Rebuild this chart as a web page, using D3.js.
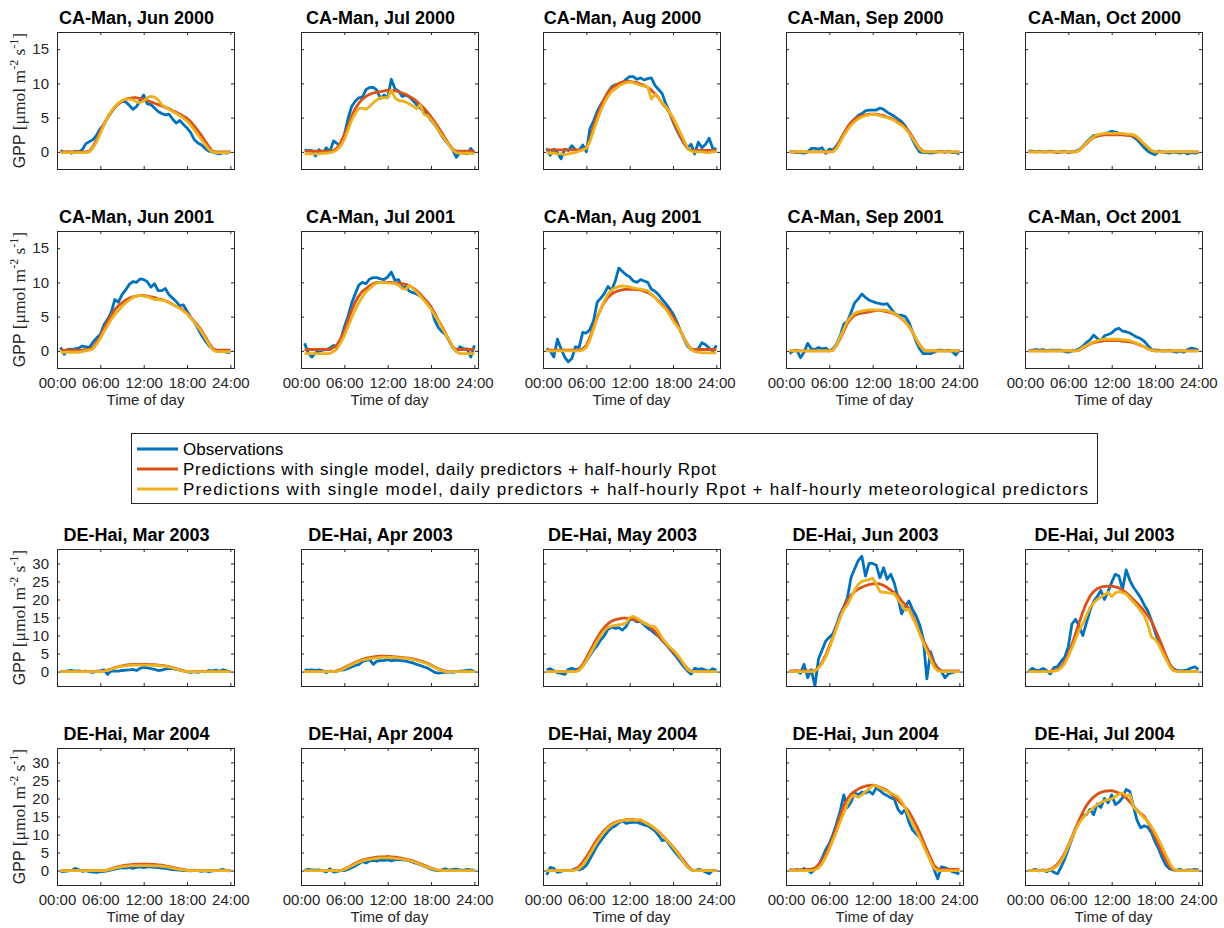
<!DOCTYPE html>
<html>
<head>
<meta charset="utf-8">
<script src="https://cdn.jsdelivr.net/npm/d3@7"></script>
<style>
  html, body { margin: 0; padding: 0; background: #fff; }
  svg { display: block; font-family: "Liberation Sans", Arial, Helvetica, sans-serif; }
</style>
</head>
<body>
<svg id="chart" width="1224" height="928"></svg>
<script>
// Half-hourly time stamps (end of each 30-minute interval), in hours
const halfHours = d3.range(1, 49).map(k => k * 0.5);

const hourTickValues = [0, 6, 12, 18, 24];
const hourTickLabels = ["00:00", "06:00", "12:00", "18:00", "24:00"];
const gppTicksCaMan = [0, 5, 10, 15];
const gppTicksDeHai = [0, 5, 10, 15, 20, 25, 30];

const seriesNames = [
  "Observations",
  "Predictions with single model, daily predictors + half-hourly Rpot",
  "Predictions with single model, daily predictors + half-hourly Rpot + half-hourly meteorological predictors"
];
const seriesColors = ["#0072BD", "#D95319", "#EDB120"];

const panelTitles = [
  "CA-Man, Jun 2000", "CA-Man, Jul 2000", "CA-Man, Aug 2000", "CA-Man, Sep 2000", "CA-Man, Oct 2000",
  "CA-Man, Jun 2001", "CA-Man, Jul 2001", "CA-Man, Aug 2001", "CA-Man, Sep 2001", "CA-Man, Oct 2001",
  "DE-Hai, Mar 2003", "DE-Hai, Apr 2003", "DE-Hai, May 2003", "DE-Hai, Jun 2003", "DE-Hai, Jul 2003",
  "DE-Hai, Mar 2004", "DE-Hai, Apr 2004", "DE-Hai, May 2004", "DE-Hai, Jun 2004", "DE-Hai, Jul 2004"
];

// ---- Mean diurnal GPP cycles, 48 half-hourly values each [umol m-2 s-1] ----
// CA-Man 2000
const obsCaManJun2000 = [0.2,-0.1,0.0,-0.2,0.1,0.0,0.3,1.2, 1.5,1.8,2.5,3.4,4.0,5.0,5.8,6.5, 7.0,7.4,7.3,6.8,6.2,6.6,7.5,8.3, 7.0,6.9,6.4,5.9,5.6,5.4,5.5,4.8, 4.2,4.6,4.0,3.5,2.8,1.8,1.3,1.0, 0.5,0.1,0.0,-0.2,-0.3,-0.1,-0.2,0.0];
const rpotCaManJun2000 = [0,0,0,0,0,0,0,0, 0.1,0.8,1.8,3.0,4.1,5.0,5.8,6.5, 7.0,7.4,7.7,7.8,7.9,7.9,7.8,7.7, 7.5,7.3,7.1,6.9,6.7,6.5,6.3,6.0, 5.8,5.5,5.2,4.9,4.4,3.8,3.1,2.4, 1.6,0.8,0.1,0,0,0,0,0];
const metCaManJun2000 = [-0.1,-0.1,-0.1,-0.1,-0.1,-0.1,-0.1,-0.1, 0.0,0.6,1.5,2.7,3.9,5.0,5.9,6.6, 7.1,7.5,7.7,7.7,7.6,7.3,7.2,7.4, 7.9,8.1,8.0,7.6,6.9,6.5,6.2,5.9, 5.6,5.3,4.9,4.5,3.9,3.2,2.5,1.8, 1.1,0.4,0.0,-0.1,-0.1,-0.1,-0.1,-0.1];

const obsCaManJul2000 = [0.3,0.2,0.2,-0.6,0.3,-0.1,0.6,0.0, 1.6,1.2,0.9,2.5,4.8,6.6,7.4,7.9, 8.0,9.1,9.4,9.4,9.0,7.8,8.3,7.9, 10.6,9.2,8.9,8.1,8.3,8.0,7.5,6.9, 6.4,5.9,5.4,4.6,4.0,3.2,2.3,1.6, 1.0,0.3,-0.8,0.0,-0.2,-0.3,0.5,-0.2];
const rpotCaManJul2000 = [0.1,0.1,0.1,0.1,0.1,0.1,0.1,0.1, 0.2,0.6,1.4,2.5,3.8,5.2,6.3,7.1, 7.7,8.1,8.4,8.6,8.7,8.8,8.9,9.0, 9.0,8.9,8.8,8.6,8.4,8.1,7.8,7.4, 6.9,6.4,5.8,5.1,4.4,3.6,2.8,1.9, 1.1,0.4,0.1,0.1,0.1,0.1,0.1,0.1];
const metCaManJul2000 = [-0.3,-0.3,-0.3,-0.3,-0.3,-0.2,-0.2,-0.1, 0.0,0.3,0.9,1.8,3.2,4.6,5.6,6.3, 6.4,6.2,6.6,7.2,7.6,7.9,7.9,7.9, 9.0,7.9,7.5,7.4,7.3,7.0,6.7,6.3, 6.9,5.5,5.3,4.7,4.0,3.2,2.4,1.7, 1.0,0.3,-0.1,-0.2,-0.2,-0.2,-0.2,-0.3];

const obsCaManAug2000 = [0.5,-0.5,0.4,-0.1,-1.0,0.4,0.2,0.9, 0.3,0.2,1.0,0.0,3.4,4.5,5.9,6.9, 7.7,8.7,9.5,9.8,9.8,10.1,10.6,11.0, 11.0,10.6,10.8,10.5,10.7,10.8,9.7,9.1, 8.5,7.0,5.8,4.4,3.2,2.2,1.3,0.6, 1.1,-0.3,1.4,0.6,1.1,2.0,0.5,0.4];
const rpotCaManAug2000 = [0.3,0.3,0.3,0.3,0.3,0.3,0.3,0.3, 0.3,0.3,0.3,0.6,1.8,3.8,5.3,6.6, 7.8,8.7,9.3,9.7,10.0,10.2,10.3,10.3, 10.2,10.1,9.9,9.7,9.4,9.0,8.5,7.9, 7.1,6.5,5.8,4.6,3.4,2.3,1.3,0.5, 0.2,0.2,0.2,0.2,0.2,0.2,0.2,0.2];
const metCaManAug2000 = [-0.1,-0.2,-0.2,-0.3,-0.3,-0.4,-0.3,-0.2, -0.1,0.1,0.3,0.5,1.5,3.1,4.6,6.0, 7.2,8.1,8.8,9.2,9.6,9.9,10.1,10.2, 10.1,9.9,9.7,9.6,9.5,7.7,8.4,7.9, 7.2,6.6,5.8,5.0,3.9,2.8,1.7,0.6, 0.1,0.0,0.0,0.0,-0.1,-0.1,0.0,0.0];

const obsCaManSep2000 = [0.0,0.0,-0.1,-0.1,-0.2,0.0,0.5,0.5, 0.4,0.6,-0.2,0.4,0.3,0.9,1.7,2.6, 3.4,4.2,4.8,5.3,5.6,6.0,6.1,6.1, 6.1,6.4,6.2,5.8,5.5,5.2,4.8,4.4, 3.8,2.9,1.8,0.8,0.0,-0.1,-0.1,-0.2, -0.1,0.0,0.1,-0.1,0.1,-0.1,-0.1,-0.3];
const rpotCaManSep2000 = [0,0,0,0,0,0,0,0, 0,0,0,0,0.1,0.7,1.7,2.7, 3.6,4.3,4.8,5.1,5.3,5.4,5.5,5.5, 5.5,5.4,5.3,5.1,4.9,4.7,4.4,4.0, 3.6,3.0,2.2,1.3,0.5,0.1,0,0, 0,0,0,0,0,0,0,0];
const metCaManSep2000 = [0,0,0,0,0,0,0,0, 0,0,0,0,0.0,0.5,1.4,2.4, 3.2,3.9,4.4,4.8,5.1,5.3,5.4,5.5, 5.4,5.3,5.1,5.0,4.8,4.6,4.2,3.9, 3.4,2.8,2.0,1.2,0.4,0.0,0,0, 0,0,0,0,0,0,0,0];

const obsCaManOct2000 = [0.1,0.1,0.0,0.1,0.0,0.0,0.1,0.0, -0.1,0.0,0.1,-0.1,0.0,0.1,0.3,0.8, 1.4,1.9,2.4,2.3,2.5,2.6,2.8,3.0, 2.9,2.7,2.6,2.5,2.4,2.2,1.8,1.2, 0.6,0.1,-0.2,-0.4,0.1,0.0,-0.1,-0.2, 0.0,-0.1,-0.2,0.0,-0.3,-0.1,-0.2,-0.1];
const rpotCaManOct2000 = [0,0,0,0,0,0,0,0, 0,0,0,0,0,0,0.2,0.7, 1.2,1.7,2.1,2.3,2.4,2.5,2.5,2.5, 2.5,2.5,2.5,2.4,2.4,2.3,2.1,1.6, 1.1,0.6,0.2,0,0,0,0,0, 0,0,0,0,0,0,0,0];
const metCaManOct2000 = [0,0,0,0,0,0,0,0, 0,0,0,0,0,0,0.2,0.7, 1.3,1.8,2.2,2.5,2.6,2.7,2.7,2.7, 2.7,2.7,2.7,2.6,2.6,2.5,2.2,1.7, 1.2,0.7,0.2,0,0,0,0,0, 0,0,0,0,0,0,0,0];

// CA-Man 2001
const obsCaManJun2001 = [0.5,-0.5,0.2,0.2,0.3,0.4,0.7,0.6, 0.5,1.3,1.9,2.4,3.8,4.6,5.6,7.5, 7.1,8.2,8.9,9.7,10.1,10.0,10.5,10.4, 10.1,9.3,9.8,8.8,8.8,9.1,8.2,7.7, 7.2,6.6,6.7,5.8,4.9,4.2,3.3,2.3, 1.5,0.8,0.3,0.1,0.0,-0.1,-0.2,-0.2];
const rpotCaManJun2001 = [0.1,0.1,0.1,0.1,0.1,0.1,0.1,0.2, 0.3,0.5,1.3,2.1,3.3,4.3,5.2,6.0, 6.6,7.0,7.4,7.7,7.9,8.0,8.1,8.1, 8.0,7.9,7.8,7.6,7.5,7.3,7.1,6.8, 6.5,6.3,5.9,5.5,4.9,4.3,3.7,3.0, 2.1,1.2,0.4,0.1,0.1,0.1,0.1,0.1];
const metCaManJun2001 = [-0.2,-0.2,-0.2,-0.2,-0.2,-0.2,-0.1,0.0, 0.1,0.3,1.0,1.8,2.8,3.7,4.6,5.3, 5.9,6.5,7.0,7.4,7.8,8.0,8.1,8.0, 7.9,7.7,7.5,7.5,7.4,7.3,7.0,6.8, 6.5,6.2,5.8,5.4,4.8,4.2,3.5,2.8, 1.9,1.0,0.2,-0.1,-0.1,-0.1,-0.1,-0.1];

const obsCaManJul2001 = [1.1,-0.3,-0.9,-0.3,-0.1,0.1,0.2,0.4, 0.8,0.5,1.6,3.5,5.0,6.9,8.3,9.6, 10.0,9.8,10.5,10.7,10.7,10.5,10.4,10.8, 11.5,10.3,10.4,9.2,9.4,8.7,8.5,8.3, 8.0,7.6,7.1,6.4,4.5,3.4,2.8,2.4, 1.5,0.5,-0.1,0.6,0.3,0.3,-0.9,0.8];
const rpotCaManJul2001 = [0.2,0.2,0.2,0.2,0.2,0.2,0.2,0.2, 0.5,0.9,1.8,2.9,4.4,5.9,7.1,8.0, 8.7,9.1,9.5,9.8,10.0,10.0,10.0,10.0, 10.0,9.9,9.9,9.8,9.7,9.5,9.2,8.8, 8.3,7.7,7.1,6.4,5.5,4.5,3.6,2.6, 1.5,0.6,0.2,0.2,0.2,0.2,0.2,0.2];
const metCaManJul2001 = [-0.4,-0.4,-0.4,-0.4,-0.4,-0.4,-0.4,-0.4, -0.1,0.3,1.2,2.2,3.5,4.8,6.0,7.0, 7.9,8.6,9.1,9.6,9.9,10.0,10.0,9.9, 9.9,9.8,9.6,9.1,9.0,9.6,9.1,8.6, 8.0,7.4,6.8,6.1,5.2,4.4,3.4,2.5, 1.6,0.6,-0.1,-0.4,-0.4,-0.4,-0.4,-0.4];

const obsCaManAug2001 = [0.3,0.0,-0.9,1.7,0.3,-0.9,-1.6,-1.1, 0.6,0.5,2.7,2.6,3.1,4.4,7.1,7.7, 8.4,9.4,8.8,10.2,12.1,11.6,11.1,10.8, 10.2,10.0,10.4,10.2,10.0,9.0,8.7,8.2, 7.5,6.9,6.2,5.4,4.3,3.0,1.8,0.7, 0.2,0.1,0.3,1.2,0.9,0.4,-0.1,0.8];
const rpotCaManAug2001 = [0.1,0.1,0.1,0.1,0.1,0.1,0.1,0.1, 0.1,0.1,0.3,0.8,2.0,3.5,4.9,6.1, 7.1,7.8,8.3,8.6,8.8,8.9,9.0,9.0, 9.0,8.9,8.9,8.7,8.5,8.2,7.8,7.3, 6.8,6.3,5.7,4.9,4.0,3.0,1.9,1.0, 0.3,0.2,0.2,0.2,0.2,0.2,0.2,0.2];
const metCaManAug2001 = [0,0,0,0,0,0,0,0, 0,0,0.1,0.5,1.6,3.2,4.8,6.1, 7.3,8.3,8.9,9.2,9.4,9.5,9.4,9.3, 9.2,9.1,9.0,8.9,8.8,8.2,7.8,7.2, 6.6,6.1,5.3,4.4,3.7,3.0,1.9,0.9, 0.2,-0.1,-0.2,-0.3,-0.3,-0.3,-0.3,-0.3];

const obsCaManSep2001 = [-0.4,0.0,0.1,-1.0,-0.2,1.1,0.3,0.2, 0.5,0.3,0.4,0.0,0.3,1.0,2.2,3.9, 4.3,5.6,7.0,7.6,8.3,7.8,7.4,7.2, 7.0,6.9,6.8,6.9,6.2,5.5,5.2,5.2, 5.0,4.2,2.8,1.4,0.3,-0.4,-0.4,-0.4, -0.2,0.1,0.1,0.0,0.1,-0.1,-0.6,0.1];
const rpotCaManSep2001 = [0,0,0,0,0,0,0,0, 0,0,0,0,0.1,0.8,1.8,2.9, 4.0,4.7,5.2,5.4,5.5,5.6,5.7,5.8, 5.9,5.9,5.8,5.7,5.6,5.4,5.1,4.7, 4.2,3.6,2.8,1.7,0.9,0.2,0,0, 0,0,0,0,0,0,0,0];
const metCaManSep2001 = [0,0,0,0,0,0,0,0, 0,0,0,0,0.1,0.9,2.0,3.2, 4.3,5.0,5.5,5.7,5.8,5.9,6.0,6.0, 6.0,6.0,5.9,5.9,5.7,5.5,5.1,4.7, 4.2,3.6,2.8,1.7,0.8,0.2,0,0, 0,0,0,0,0,0,0,0];

const obsCaManOct2001 = [0.0,0.1,0.2,0.1,0.2,0.0,0.1,0.1, 0.1,0.1,-0.1,-0.2,0.0,0.1,0.3,0.7, 1.2,1.6,2.3,1.8,1.5,2.2,2.4,2.6, 3.1,3.3,2.9,2.8,2.6,2.3,2.0,1.8, 1.4,0.8,0.2,0.1,0.1,0.0,0.0,0.1, -0.1,-0.2,0.0,-0.2,0.2,0.4,0.3,0.1];
const rpotCaManOct2001 = [0,0,0,0,0,0,0,0, 0,0,0,0,0,0,0.1,0.4, 0.7,1.0,1.2,1.3,1.4,1.5,1.5,1.5, 1.5,1.5,1.4,1.4,1.3,1.2,1.0,0.8, 0.6,0.3,0.1,0,0,0,0,0, 0,0,0,0,0,0,0,0];
const metCaManOct2001 = [0,0,0,0,0,0,0,0, 0,0,0,0,0,0,0.1,0.5, 0.8,1.1,1.3,1.5,1.6,1.7,1.7,1.7, 1.7,1.7,1.6,1.6,1.5,1.3,1.1,0.9, 0.6,0.3,0.1,0,0,0,0,0, 0,0,0,0,0,0,0,0];

// DE-Hai 2003
const obsDeHaiMar2003 = [0.1,0.0,0.2,0.3,0.1,0.2,0.0,0.1, -0.1,-0.2,0.1,0.2,0.5,-0.8,0.2,0.1, 0.1,0.3,0.4,0.5,0.6,0.3,0.9,1.2, 1.0,0.8,0.6,0.3,0.4,0.7,0.9,0.8, 0.6,0.4,0.2,-0.1,-0.2,0.0,-0.2,0.1, -0.1,0.3,0.2,0.4,0.1,0.5,0.2,0.0];
const rpotDeHaiMar2003 = [0,0,0,0,0,0,0,0, 0,0,0,0,0.1,0.4,0.7,1.1, 1.4,1.6,1.8,1.9,2.0,2.0,2.0,2.0, 2.0,1.9,1.9,1.8,1.7,1.6,1.4,1.1, 0.8,0.5,0.2,0,0,0,0,0, 0,0,0,0,0,0,0,0];
const metDeHaiMar2003 = [0,0,0,0,0,0,0,0, 0,0,0,0,0.1,0.3,0.6,1.0, 1.3,1.5,1.6,1.7,1.8,1.8,1.8,1.8, 1.8,1.8,1.7,1.7,1.6,1.5,1.3,1.0, 0.7,0.4,0.1,0,0,0,0,0, 0,0,0,0,0,0,0,0];

const obsDeHaiApr2003 = [0.5,0.4,0.5,0.3,0.5,0.2,-0.3,0.1, 0.0,0.2,0.4,0.5,0.9,1.3,1.7,1.9, 2.8,3.1,3.3,2.0,2.9,3.0,3.1,3.3, 3.0,3.2,3.1,3.0,2.9,2.6,2.4,2.0, 1.7,1.3,1.0,0.4,-0.2,-0.4,-0.3,-0.2, -0.1,-0.2,0.0,0.1,0.2,0.3,0.4,0.1];
const rpotDeHaiApr2003 = [0,0,0,0,0,0,0,0, 0,0.2,0.6,1.1,1.6,2.1,2.6,3.0, 3.4,3.7,3.9,4.1,4.2,4.3,4.3,4.2, 4.2,4.1,4.0,3.9,3.8,3.7,3.5,3.3, 3.0,2.7,2.3,1.8,1.3,0.8,0.4,0.1, 0,0,0,0,0,0,0,0];
const metDeHaiApr2003 = [0,0,0,0,0,0,0,0, 0,0.1,0.4,0.9,1.4,1.9,2.4,2.8, 3.2,3.4,3.6,3.7,3.8,3.9,4.0,3.9, 3.9,3.9,3.8,3.8,3.7,3.6,3.3,3.1, 2.8,2.5,2.1,1.6,1.1,0.6,0.2,0, 0,0,0,0,0,0,0,0];

const obsDeHaiMay2003 = [0.5,0.8,0.2,-0.3,-0.5,-0.8,0.6,0.9, 0.5,0.8,1.6,3.0,4.5,6.0,7.2,8.8, 10.0,11.8,12.3,12.0,12.2,11.5,12.5,14.5, 14.4,13.8,13.9,12.9,12.0,11.4,10.5,9.8, 8.6,7.6,6.4,5.2,4.0,2.6,1.3,0.2, -0.7,0.9,0.6,0.8,0.4,0.1,0.8,0.4];
const rpotDeHaiMay2003 = [0,0,0,0,0,0,0,0, 0,0.6,2.0,3.8,5.7,7.6,9.4,11.0, 12.3,13.3,14.0,14.4,14.6,14.8,14.8,14.7, 14.5,14.2,13.9,13.5,13.0,12.1,11.1,9.9, 8.8,7.7,6.6,5.6,4.6,3.4,2.0,0.8, 0.1,0,0,0,0,0,0,0];
const metDeHaiMay2003 = [0,0,0,0,0,0,0,0, 0,0.3,1.4,3.0,4.8,6.6,8.4,10.0, 11.4,12.3,12.6,12.8,13.0,13.1,13.5,15.0, 15.3,14.8,14.1,13.4,12.9,12.6,12.4,11.0, 9.3,8.0,6.9,6.0,4.9,3.6,2.0,0.6, 0,0,0,0,0,0,0,0];

const obsDeHaiJun2003 = [0.1,0.0,0.2,-0.5,2.0,-1.7,0.5,-4.0, 3.5,6.0,8.5,9.5,10.5,13.0,15.9,18.0, 20.5,26.0,28.5,30.8,32.0,26.5,30.0,30.0, 29.5,26.0,28.8,25.6,27.0,24.5,20.5,16.0, 18.0,19.6,17.3,15.5,13.0,9.0,-2.0,5.5, 2.5,1.0,0.1,-1.7,-0.6,-0.3,0.0,0.1];
const rpotDeHaiJun2003 = [0.2,0.2,0.2,0.2,0.2,0.2,0.2,0.3, 1.2,2.6,4.5,7.0,9.6,12.4,15.2,17.7, 19.8,21.2,22.2,22.9,23.4,23.8,24.1,24.3, 24.4,24.3,23.9,23.3,22.6,21.9,21.0,19.6, 18.6,17.6,15.6,13.4,10.8,8.6,6.8,4.6, 2.2,0.7,0.2,0.2,0.2,0.2,0.2,0.2];
const metDeHaiJun2003 = [0,0,0,0,0,0,0,0.2, 1.0,2.2,4.0,6.5,9.2,12.2,15.0,17.2, 18.5,20.5,22.5,24.2,25.0,25.3,25.5,25.9, 24.2,22.2,22.0,21.9,21.7,21.6,20.0,18.6, 17.0,17.3,15.0,13.0,10.5,8.0,5.7,3.5, 1.3,0.2,0,0,0,0,0,0];

const obsDeHaiJul2003 = [0.0,0.9,0.4,0.3,0.9,0.3,-0.7,1.1, 1.4,2.8,4.0,7.0,13.2,14.5,12.6,10.0, 13.5,17.0,19.4,20.8,22.5,20.0,22.2,24.8, 27.0,26.5,22.8,28.2,25.4,23.4,22.0,20.5, 18.5,16.9,14.2,11.0,8.3,5.7,3.6,2.0, 0.9,0.3,0.2,0.3,0.5,1.0,1.3,0.6];
const rpotDeHaiJul2003 = [0,0,0,0,0,0,0.1,0.3, 0.6,1.4,2.8,5.0,7.5,10.5,13.6,16.5, 19.0,20.9,22.2,23.0,23.4,23.6,23.7,23.7, 23.5,23.2,22.6,21.9,21.0,20.0,19.0,18.0, 16.8,15.5,14.0,11.8,9.5,7.0,4.5,2.2, 0.6,0.1,0,0,0,0,0,0];
const metDeHaiJul2003 = [0,0,0,0,0,0,0,0.1, 0.3,1.0,2.2,4.3,6.6,9.0,11.5,13.3, 15.5,17.8,19.0,20.0,20.7,21.3,22.0,20.8, 21.8,22.2,21.9,21.5,20.4,19.3,18.2,16.8, 15.5,13.0,9.6,9.0,7.5,5.5,3.5,1.5, 0.3,0,0,0,0,0,0,0];

// DE-Hai 2004
const obsDeHaiMar2004 = [-0.3,-0.2,-0.1,0.0,0.6,0.2,-0.2,0.0, -0.3,-0.4,-0.5,-0.3,-0.2,-0.1,0.2,0.4, 0.6,0.8,0.7,0.9,0.6,0.9,1.0,0.8, 1.0,1.0,0.9,0.8,0.7,0.6,0.4,0.3, 0.2,0.1,0.0,0.0,-0.1,0.1,0.0,-0.2, 0.0,-0.3,-0.1,0.0,0.1,0.3,0.0,-0.1];
const rpotDeHaiMar2004 = [0,0,0,0,0,0,0,0, 0,0,0,0,0,0.2,0.5,0.8, 1.1,1.3,1.5,1.6,1.7,1.8,1.8,1.8, 1.8,1.7,1.7,1.6,1.5,1.3,1.1,0.9, 0.7,0.5,0.3,0.1,0,0,0,0, 0,0,0,0,0,0,0,0];
const metDeHaiMar2004 = [0,0,0,0,0,0,0,0, 0,0,0,0,0,0.1,0.4,0.7, 0.9,1.1,1.2,1.3,1.4,1.4,1.4,1.4, 1.4,1.4,1.3,1.3,1.2,1.1,0.9,0.7, 0.5,0.3,0.2,0.0,0,0,0,0, 0,0,0,0,0,0,0,0];

const obsDeHaiApr2004 = [0.1,0.3,0.2,0.1,0.2,0.0,-0.4,0.5, -0.4,-0.2,0.0,0.0,0.3,0.8,1.3,1.9, 2.5,2.1,2.7,2.8,2.6,3.0,2.8,3.0, 2.7,3.0,3.1,3.0,2.9,2.7,2.3,2.0, 1.6,1.2,0.8,0.4,0.1,0.0,0.2,0.5, 0.1,0.3,0.4,0.2,0.1,0.3,0.2,0.1];
const rpotDeHaiApr2004 = [0,0,0,0,0,0,0,0, 0,0,0,0.4,0.9,1.5,2.0,2.5, 2.9,3.2,3.4,3.6,3.7,3.8,3.8,3.9, 3.8,3.7,3.6,3.4,3.2,3.0,2.7,2.3, 1.9,1.5,1.1,0.7,0.4,0.1,0,0, 0,0,0,0,0,0,0,0];
const metDeHaiApr2004 = [0,0,0,0,0,0,0,0, 0,0,0,0.3,0.8,1.3,1.8,2.3, 2.6,2.9,3.1,3.3,3.4,3.5,3.5,3.5, 3.5,3.4,3.3,3.2,3.0,2.8,2.5,2.1, 1.7,1.3,0.9,0.6,0.3,0.1,0,0, 0,0,0,0,0,0,0,0];

const obsDeHaiMay2004 = [-1.2,0.9,0.6,-0.5,-0.2,0.1,0.0,0.1, 0.6,0.2,0.6,1.5,3.2,5.0,6.9,8.3, 9.6,10.9,11.9,12.4,13.2,13.8,13.1,13.3, 13.4,13.4,13.0,12.7,12.4,11.8,11.0,9.8, 8.3,8.6,7.2,5.8,4.6,3.4,2.3,1.0, 0.2,0.0,0.3,0.1,-0.4,-0.9,0.1,0.0];
const rpotDeHaiMay2004 = [0,0,0,0,0,0,0,0, 0.4,1.2,2.3,3.8,5.4,7.1,8.7,10.0, 11.2,12.1,12.9,13.4,13.7,13.9,14.1,14.2, 14.1,14.0,13.8,13.5,13.0,12.4,11.6,10.8, 9.8,8.8,7.7,6.6,5.4,4.1,2.8,1.4, 0.3,0,0,0,0,0,0,0];
const metDeHaiMay2004 = [0,0,0,0,0,0,0,0, 0.1,0.6,1.5,2.9,4.6,6.3,7.9,9.4, 10.7,11.8,12.6,13.2,13.6,13.9,14.0,14.1, 14.0,13.9,14.2,13.5,12.9,12.4,11.6,10.8, 9.6,8.7,7.6,6.5,5.2,3.8,2.3,1.0, 0.2,0,0,0,0,0,0,0];

const obsDeHaiJun2004 = [0.2,0.0,0.3,0.0,0.6,0.1,-0.6,0.4, 1.5,3.5,5.8,7.5,10.0,13.0,16.5,21.0, 17.5,19.0,21.5,21.0,21.8,21.5,22.0,21.2, 23.0,22.2,21.3,20.8,20.2,19.8,17.0,15.8, 17.0,13.5,11.3,10.2,9.2,7.5,5.5,3.0, 0.3,-2.3,1.0,0.8,0.4,-0.3,-0.6,-0.9];
const rpotDeHaiJun2004 = [0.2,0.2,0.2,0.2,0.2,0.3,0.4,0.7, 1.6,2.9,4.7,6.8,9.3,12.0,15.3,18.0, 19.9,21.2,22.0,22.6,23.1,23.4,23.6,23.7, 23.5,23.1,22.7,22.2,21.4,20.5,19.5,18.5, 17.5,16.4,14.6,12.7,10.6,8.2,5.8,3.6, 1.4,0.5,0.3,0.3,0.3,0.3,0.3,0.3];
const metDeHaiJun2004 = [0,0,0,0,0,0,0,0.2, 0.8,1.9,3.7,5.9,8.4,10.9,13.6,16.0, 18.5,20.3,21.0,20.3,21.0,21.9,22.7,23.5, 23.6,22.9,22.4,22.0,21.5,21.0,20.4,19.2, 17.4,15.2,13.2,11.3,9.2,7.0,4.8,2.6, 0.6,0,0,0,0,0,0,0];

const obsDeHaiJul2004 = [0.0,0.1,0.3,-0.1,0.2,-0.3,0.2,-0.5, -0.9,1.0,3.2,6.0,8.8,11.5,13.5,15.3, 15.5,17.0,15.5,18.5,17.5,20.0,18.8,21.0, 18.3,19.0,20.2,22.5,22.0,17.9,14.0,11.9, 12.4,12.0,10.5,8.0,6.0,3.5,1.5,0.5, 0.2,0.1,0.3,0.0,0.2,0.1,0.3,0.2];
const rpotDeHaiJul2004 = [0,0,0,0,0,0.1,0.4,0.9, 1.8,3.1,4.8,7.0,9.4,11.7,14.0,16.2, 18.0,19.4,20.4,21.2,21.7,22.0,22.1,22.2, 21.9,21.5,21.0,20.2,19.1,17.8,16.8,15.8, 15.1,13.5,11.5,9.4,7.2,5.0,3.0,1.2, 0.3,0,0,0,0,0,0,0];
const metDeHaiJul2004 = [0,0,0,0,0,0,0.2,0.6, 1.4,2.6,4.4,6.7,9.0,11.3,13.2,14.6, 15.7,16.6,17.5,18.3,18.9,19.4,19.7,19.9, 20.5,21.2,21.6,20.7,21.1,17.6,16.6,15.6, 14.6,13.6,12.2,10.5,8.6,6.5,4.3,2.2, 0.6,0,0,0,0,0,0,0];

// Panel table: one entry per small multiple, in reading order
const panelSeries = [
  [obsCaManJun2000, rpotCaManJun2000, metCaManJun2000],
  [obsCaManJul2000, rpotCaManJul2000, metCaManJul2000],
  [obsCaManAug2000, rpotCaManAug2000, metCaManAug2000],
  [obsCaManSep2000, rpotCaManSep2000, metCaManSep2000],
  [obsCaManOct2000, rpotCaManOct2000, metCaManOct2000],
  [obsCaManJun2001, rpotCaManJun2001, metCaManJun2001],
  [obsCaManJul2001, rpotCaManJul2001, metCaManJul2001],
  [obsCaManAug2001, rpotCaManAug2001, metCaManAug2001],
  [obsCaManSep2001, rpotCaManSep2001, metCaManSep2001],
  [obsCaManOct2001, rpotCaManOct2001, metCaManOct2001],
  [obsDeHaiMar2003, rpotDeHaiMar2003, metDeHaiMar2003],
  [obsDeHaiApr2003, rpotDeHaiApr2003, metDeHaiApr2003],
  [obsDeHaiMay2003, rpotDeHaiMay2003, metDeHaiMay2003],
  [obsDeHaiJun2003, rpotDeHaiJun2003, metDeHaiJun2003],
  [obsDeHaiJul2003, rpotDeHaiJul2003, metDeHaiJul2003],
  [obsDeHaiMar2004, rpotDeHaiMar2004, metDeHaiMar2004],
  [obsDeHaiApr2004, rpotDeHaiApr2004, metDeHaiApr2004],
  [obsDeHaiMay2004, rpotDeHaiMay2004, metDeHaiMay2004],
  [obsDeHaiJun2004, rpotDeHaiJun2004, metDeHaiJun2004],
  [obsDeHaiJul2004, rpotDeHaiJul2004, metDeHaiJul2004]
];

// ---- Layout ----
const colLeft = [57, 301, 543, 786, 1025];
const rowTop = [32, 231, 549, 748];
const plotW = 177, plotH = 137;
const axisColor = "#262626";
const sansFont = '"Liberation Sans", Arial, Helvetica, sans-serif';
const serifFont = '"Liberation Serif", "Times New Roman", "DejaVu Serif", serif';
const lineWidth = 2.8;

const svg = d3.select("#chart");

const xScale = d3.scaleLinear().domain([0, 24.5]).range([0, plotW]);
const yScaleCaMan = d3.scaleLinear().domain([-2.5, 17.5]).range([plotH, 0]);
const yScaleDeHai = d3.scaleLinear().domain([-4, 34]).range([plotH, 0]);

svg.append("defs").append("clipPath").attr("id", "plotClip")
  .append("rect").attr("x", 0).attr("y", 0).attr("width", plotW + 1).attr("height", plotH + 1);

function styleAxis(sel, fontSize) {
  sel.attr("font-family", sansFont).attr("font-size", fontSize);
  sel.select(".domain").remove();
  sel.selectAll(".tick line").attr("stroke", axisColor).attr("stroke-width", 1);
  sel.selectAll(".tick text").attr("fill", axisColor);
}

panelSeries.forEach((series, idx) => {
  const row = Math.floor(idx / 5);
  const col = idx % 5;
  const y = row < 2 ? yScaleCaMan : yScaleDeHai;
  const yTicks = row < 2 ? gppTicksCaMan : gppTicksDeHai;
  const showX = row === 1 || row === 3;
  const showY = col === 0;

  const g = svg.append("g").attr("transform", `translate(${colLeft[col]},${rowTop[row]})`);

  g.append("rect").attr("x", 0.5).attr("y", 0.5).attr("width", plotW).attr("height", plotH)
    .attr("fill", "#fff");

  // curves: observations, then the two model predictions on top
  const line = d3.line()
    .x((d, i) => xScale(halfHours[i]))
    .y(d => y(d))
    .curve(d3.curveLinear);

  const lines = g.append("g").attr("clip-path", "url(#plotClip)");
  series.forEach((vals, s) => {
    lines.append("path")
      .datum(vals)
      .attr("d", line)
      .attr("fill", "none")
      .attr("stroke", seriesColors[s])
      .attr("stroke-width", lineWidth)
      .attr("stroke-linejoin", "round")
      .attr("stroke-linecap", "butt");
  });

  // axes (ticks point inward, boxed)
  g.append("g").attr("transform", `translate(0,${plotH})`)
    .call(d3.axisBottom(xScale).tickValues(hourTickValues)
      .tickSizeInner(-3).tickSizeOuter(0).tickPadding(9)
      .tickFormat((d, i) => showX ? hourTickLabels[i] : ""))
    .call(a => styleAxis(a, 15));

  g.append("g")
    .call(d3.axisTop(xScale).tickValues(hourTickValues)
      .tickSizeInner(-3).tickSizeOuter(0).tickFormat(""))
    .call(a => styleAxis(a, 15));

  g.append("g")
    .call(d3.axisLeft(y).tickValues(yTicks)
      .tickSizeInner(-3).tickSizeOuter(0).tickPadding(8)
      .tickFormat(d => showY ? d3.format("d")(d) : ""))
    .call(a => styleAxis(a, 15));

  g.append("g").attr("transform", `translate(${plotW},0)`)
    .call(d3.axisRight(y).tickValues(yTicks)
      .tickSizeInner(-3).tickSizeOuter(0).tickFormat(""))
    .call(a => styleAxis(a, 15));

  g.append("rect").attr("x", 0.5).attr("y", 0.5).attr("width", plotW).attr("height", plotH)
    .attr("fill", "none").attr("stroke", axisColor).attr("stroke-width", 1);

  g.append("text")
    .attr("x", plotW / 2 - 9).attr("y", -8)
    .attr("text-anchor", "middle")
    .attr("font-family", sansFont).attr("font-size", 18).attr("font-weight", "bold")
    .attr("fill", "#000")
    .text(panelTitles[idx]);

  if (showX) {
    g.append("text")
      .attr("x", plotW / 2).attr("y", plotH + 36.5)
      .attr("text-anchor", "middle")
      .attr("font-family", sansFont).attr("font-size", 15)
      .attr("fill", axisColor)
      .text("Time of day");
  }

  if (showY) {
    const lab = svg.append("text")
      .attr("transform", `translate(25,${rowTop[row] + plotH / 2}) rotate(-90)`)
      .attr("text-anchor", "middle")
      .attr("fill", axisColor)
      .attr("font-size", 16);
    lab.append("tspan").attr("font-family", sansFont).text("GPP ");
    lab.append("tspan").attr("font-family", serifFont).attr("font-size", 17.5).text("[\u03BCmol m");
    lab.append("tspan").attr("font-family", serifFont).attr("font-size", 12).attr("dy", -7).text("-2");
    lab.append("tspan").attr("font-family", serifFont).attr("font-size", 17.5).attr("dy", 7).text(" s");
    lab.append("tspan").attr("font-family", serifFont).attr("font-size", 12).attr("dy", -7).text("-1");
    lab.append("tspan").attr("font-family", serifFont).attr("font-size", 17.5).attr("dy", 7).text("]");
  }
});

// ---- Legend ----
// longer entries are set to their full measured run length
const legendTextWidths = [null, 533, 905];
const legend = svg.append("g").attr("transform", "translate(131,433)");
legend.append("rect").attr("x", 0.5).attr("y", 0.5).attr("width", 966).attr("height", 70)
  .attr("fill", "#fff").attr("stroke", axisColor).attr("stroke-width", 1);
seriesNames.forEach((name, i) => {
  const yy = 16 + i * 20;
  legend.append("line")
    .attr("x1", 6).attr("x2", 47).attr("y1", yy).attr("y2", yy)
    .attr("stroke", seriesColors[i]).attr("stroke-width", lineWidth);
  const t = legend.append("text")
    .attr("x", 52).attr("y", yy + 6)
    .attr("font-family", sansFont).attr("font-size", 17)
    .attr("fill", "#000")
    .text(name);
  if (legendTextWidths[i]) {
    t.attr("textLength", legendTextWidths[i]).attr("lengthAdjust", "spacing");
  }
});
</script>
</body>
</html>
